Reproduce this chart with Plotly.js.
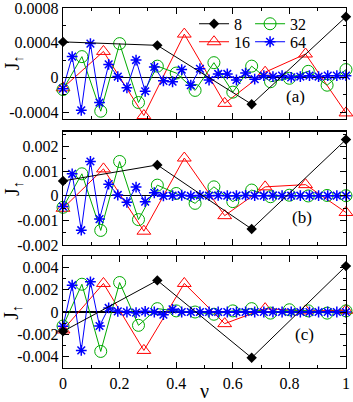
<!DOCTYPE html>
<html>
<head>
<meta charset="utf-8">
<script src="https://cdn.plot.ly/plotly-3.0.1.min.js"></script>
<style>
  html, body { margin: 0; padding: 0; background: #fff; }
  #plot { width: 353px; height: 402px; }
</style>
</head>
<body>
<div id="plot"></div>
<script>
// ------------------ data ------------------
const nu8  = [0, 0.3333, 0.6667, 1];
const nu16 = [0, 0.1429, 0.2857, 0.4286, 0.5714, 0.7143, 0.8571, 1];
const nu32 = [0, 0.0667, 0.1333, 0.2, 0.2667, 0.3333, 0.4, 0.4667, 0.5333, 0.6,
              0.6667, 0.7333, 0.8, 0.8667, 0.9333, 1];
const nu64 = [0, 0.0323, 0.0645, 0.0968, 0.129, 0.1613, 0.1935, 0.2258, 0.2581, 0.2903,
              0.3226, 0.3548, 0.3871, 0.4194, 0.4516, 0.4839, 0.5161, 0.5484, 0.5806, 0.6129,
              0.6452, 0.6774, 0.7097, 0.7419, 0.7742, 0.8065, 0.8387, 0.871, 0.9032, 0.9355,
              0.9677, 1];

// panel (a)
const a8  = [0.00041, 0.00037, -0.00031, 0.0007];
const a16 = [-0.00012, 0.0003, -0.00044, 0.0005, -0.0003, 0.00006, 0.00027, -0.00041];
const a32 = [-0.00014, 0.00024, -0.00039, 0.00039, -0.00029, 0.00013, 0.00005, -0.00015,
             0.00017, -0.00017, 0.00013, -0.00005, -0.00001, 0.00007, -0.00009, 0.00009];
const a64 = [-0.00013, 0.00024, -0.00038, 0.00039, -0.00029, 0.00015, 0.00001, -0.00012,
             0.0002, -0.00016, 0.00012, -0.00004, -0.00005, 0.00009, -0.00009, 0.0001,
             -0.00003, 0.00004, 0.00004, -0.00003, 0.00005, -0.00002, 0.00002, 0.00001,
             0.00002, 0, 0.00001, 0.00002, 0.00001, 0.00002, 0.00002, 0.00002];

// panel (b)
const b8  = [0.0006, 0.00125, -0.00135, 0.00228];
const b16 = [-0.00051, 0.00109, -0.00144, 0.00153, -0.00081, 0.00036, 0.00045, -0.00068];
const b32 = [-0.00047, 0.00089, -0.00141, 0.00139, -0.00097, 0.00043, 0.00009, -0.00031,
             0.00036, -0.00024, 0.00023, -0.00004, 0.00002, -0.00001, 0.00001, 0];
const b64 = [-0.00044, 0.00089, -0.0014, 0.00139, -0.00095, 0.00047, 0.00003, -0.00027,
             0.00035, -0.00024, 0.00012, -0.00001, 0, 0.00002, -0.00001, 0.00001,
             0, 0.00001, 0, 0, 0.00001, 0, 0, 0.00001,
             0, 0, 0, 0, 0, 0, 0, 0];

// panel (c)
const c8  = [-0.00173, 0.00282, -0.00409, 0.0041];
const c16 = [-0.0016, 0.00255, -0.00343, 0.00255, -0.00104, 0.0003, 0.0001, 0.00015];
const c32 = [-0.00125, 0.00248, -0.00352, 0.00263, -0.00119, 0.0003, 0.0001, 0,
             -0.0002, 0.0001, 0.0003, -0.0001, 0.0002, 0.0001, -0.0001, 0.0001];
const c64 = [-0.00128, 0.00239, -0.00343, 0.00269, -0.00125, 0.00036, 0.00006, 0,
             -0.00006, 0.00006, 0, -0.00024, 0.00024, 0, 0, 0,
             0, 0, 0, 0, 0, 0, 0, 0,
             0, 0, 0, 0, 0, 0, 0, 0];

// tick labels per panel
const yTickVals = [
  [-0.0004, 0, 0.0004, 0.0008],
  [-0.002, -0.001, 0, 0.001, 0.002],
  [-0.004, -0.002, 0, 0.002, 0.004]
];
const yTickText = [
  ['-0.0004', '0', '0.0004', '0.0008'],
  ['-0.002', '-0.001', '0', '0.001', '0.002'],
  ['-0.004', '-0.002', '0', '0.002', '0.004']
];
const xTickVals = [0, 0.2, 0.4, 0.6, 0.8, 1];
const xTickText = ['0', '0.2', '0.4', '0.6', '0.8', '1'];
const panelLabels = ['(a)', '(b)', '(c)'];

// ------------------ styles ------------------
const GREEN = 'rgb(0,170,0)';
const styles = {
  '8':  { color: 'black', marker: { symbol: 'diamond', size: 8, color: 'black' }, legend: 'legend' },
  '16': { color: 'red', marker: { symbol: 'triangle-up-open', size: 12, color: 'red', line: { color: 'red', width: 1 } }, legend: 'legend3' },
  '32': { color: GREEN, marker: { symbol: 'circle-open', size: 12, color: GREEN, line: { color: GREEN, width: 1 } }, legend: 'legend2' },
  '64': { color: 'blue', marker: { symbol: 'asterisk-open', size: 9, color: 'blue', line: { color: 'blue', width: 1.5 } }, legend: 'legend4' }
};

const xs = { '8': nu8, '16': nu16, '32': nu32, '64': nu64 };
const panels = [
  { '8': a8, '16': a16, '32': a32, '64': a64 },
  { '8': b8, '16': b16, '32': b32, '64': b64 },
  { '8': c8, '16': c16, '32': c32, '64': c64 }
];

// draw order: 16, 32, 64, then 8 on top
const drawOrder = ['16', '32', '64', '8'];
const data = [];
panels.forEach((p, i) => {
  const ax = i === 0 ? '' : String(i + 1);
  drawOrder.forEach(n => {
    const s = styles[n];
    data.push({
      x: xs[n], y: p[n],
      xaxis: 'x' + ax, yaxis: 'y' + ax,
      type: 'scatter', mode: 'lines+markers',
      name: n,
      legend: s.legend,
      showlegend: i === 0,
      line: { color: s.color, width: 1 },
      marker: s.marker,
      cliponaxis: false
    });
  });
});

// ------------------ layout ------------------
const FONT = 'Liberation Serif';
// plot area spans y = 8..368 px (360 px high)
const domains = [[0.6917, 1], [0.3417, 0.6564], [0, 0.3111]];
const yRanges = [[-0.00048, 0.000801], [-0.002001, 0.0026], [-0.005, 0.005]];
const yMinor = [0.0002, 0.0005, 0.001];

function xAxis(i) {
  const ax = {
    domain: [0, 1], range: [-0.0001, 1.0001],
    anchor: i === 0 ? 'y' : 'y' + (i + 1),
    tickmode: 'array', tickvals: xTickVals, ticktext: xTickText,
    showticklabels: i === 2,
    ticks: 'inside', ticklen: 6, tickwidth: 1, tickcolor: 'black',
    minor: { dtick: 0.1, tick0: 0, ticks: 'inside', ticklen: 3, tickcolor: 'black' },
    showline: true, linecolor: 'black', linewidth: 1.3, mirror: 'ticks',
    showgrid: false, zeroline: false
  };
  if (i > 0) ax.matches = 'x';
  if (i === 2) ax.title = { text: 'ν', font: { size: 20 }, standoff: 8 };
  return ax;
}
function yAxis(i) {
  return {
    domain: domains[i], range: yRanges[i],
    anchor: i === 0 ? 'x' : 'x' + (i + 1),
    tickmode: 'array', tickvals: yTickVals[i], ticktext: yTickText[i],
    ticklabeloverflow: 'allow',
    ticks: 'inside', ticklen: 6, tickwidth: 1, tickcolor: 'black',
    minor: { dtick: yMinor[i], tick0: 0, ticks: 'inside', ticklen: 3, tickcolor: 'black' },
    showline: true, linecolor: 'black', linewidth: 1.3, mirror: 'ticks',
    showgrid: false,
    zeroline: true, zerolinecolor: 'black', zerolinewidth: 1.3
  };
}

const annotations = [];
const titleY = [0.849, 0.5, 0.156];
const labelX = [0.823, 0.845, 0.855];
const labelY = [0.753, 0.419, 0.092];
panels.forEach((p, i) => {
  annotations.push({
    text: 'J<sub>↑</sub>', xref: 'paper', x: -0.177, yref: 'paper', y: titleY[i],
    xanchor: 'center', yanchor: 'middle',
    textangle: -90, showarrow: false, font: { size: 20 }
  });
  annotations.push({
    text: panelLabels[i], xref: 'paper', x: labelX[i], yref: 'paper', y: labelY[i],
    xanchor: 'center', yanchor: 'middle',
    showarrow: false, font: { size: 17 }
  });
});

function legendBox(x, y) {
  return {
    x: x, y: y, xanchor: 'left', yanchor: 'middle',
    bgcolor: 'rgba(0,0,0,0)', font: { size: 16 }, itemwidth: 30
  };
}

const layout = {
  width: 353, height: 402,
  margin: { l: 63, r: 7, t: 8, b: 34 },
  paper_bgcolor: 'white', plot_bgcolor: 'white',
  font: { family: FONT, size: 16, color: 'black' },
  xaxis: xAxis(0), xaxis2: xAxis(1), xaxis3: xAxis(2),
  yaxis: yAxis(0), yaxis2: yAxis(1), yaxis3: yAxis(2),
  legend: legendBox(0.463, 0.956),
  legend2: legendBox(0.661, 0.956),
  legend3: legendBox(0.463, 0.906),
  legend4: legendBox(0.661, 0.906),
  annotations: annotations,
  showlegend: true
};

Plotly.newPlot('plot', data, layout, { staticPlot: true, displayModeBar: false });
</script>
</body>
</html>
